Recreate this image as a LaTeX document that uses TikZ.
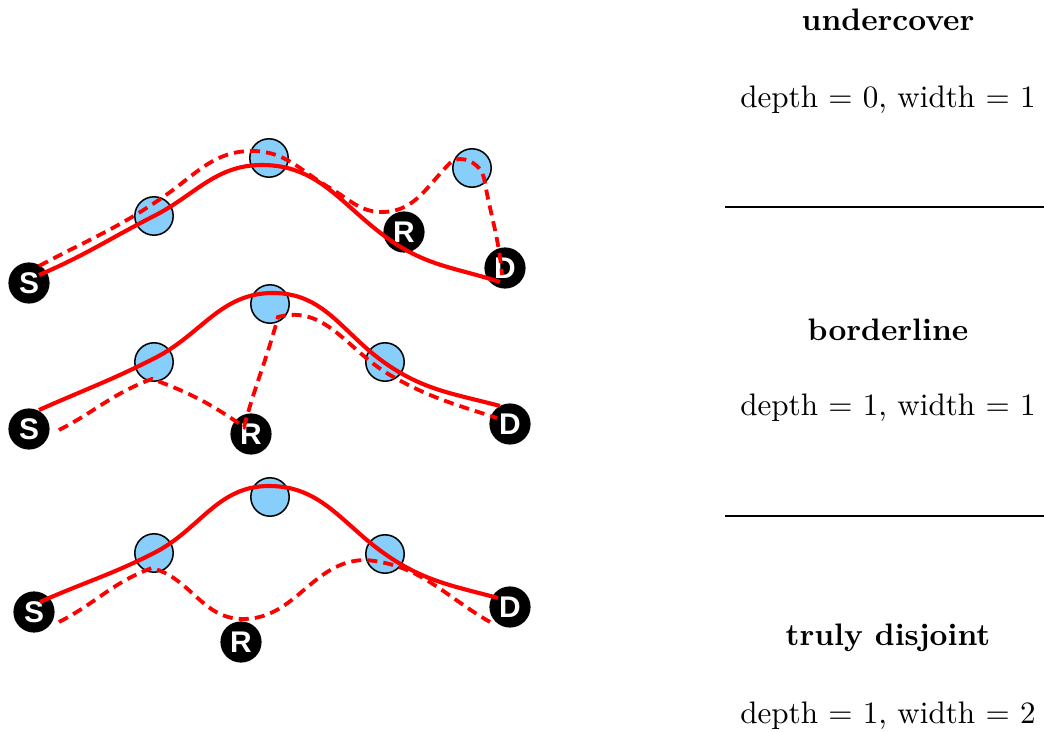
\documentclass[tikz,border=0pt]{standalone}
\usepackage{fontspec}
\setsansfont{Liberation Sans}
\usetikzlibrary{calc}
\definecolor{nodeblue}{RGB}{135,206,250}
\begin{document}
\begin{tikzpicture}[x=0.328pt,y=0.328pt,
  relay/.style={circle,draw=black,line width=0.5pt,fill=nodeblue,minimum size=12.6pt,inner sep=0pt},
  endpt/.style={circle,fill=black,draw=black,minimum size=13.1pt,inner sep=0pt,text=white,
    font=\sffamily\bfseries\fontsize{9.8}{9.8}\selectfont},
  route/.style={red,line width=1.35pt},
  alt/.style={red,line width=1.25pt,dash pattern=on 3.3pt off 2pt},
  title/.style={font=\fontsize{10.2}{12}\selectfont\bfseries},
  info/.style={font=\fontsize{10.2}{12}\selectfont},
  sep/.style={black,line width=0.5pt}]
\useasboundingbox (0,0) rectangle (1044,-732);

% ---------- top: undercover ----------
\node[endpt] (S1) at (29,-283) {S};
\node[relay] (B11) at (154,-216) {};
\node[relay] (B12) at (269,-158) {};
\node[endpt] (R1) at (404,-232) {R};
\node[relay] (B13) at (472,-168) {};
\node[endpt] (D1) at (505,-268) {D};

\draw[route] ($(S1)+(10,8)$) to[out=23,in=207] (B11.center)
  to[out=27,in=180] ($(B12)+(-7,-7)$)
  to[out=0,in=145] ($(R1)+(-14,-8)$)
  to[out=-35,in=162] ($(D1)+(-5,-14)$);
\draw[alt] ($(S1)+(10,17)$) to[out=28,in=215] ($(B11)+(12,21)$)
  to[out=35,in=180] ($(B12)+(-17,7)$)
  to[out=0,in=150] ($(R1)+(-74,44)$)
  to[out=-30,in=180] ($(R1)+(-22,20)$)
  to[out=0,in=-135] ($(B13)+(-22,5)$)
  to[out=45,in=100] ($(B13)+(12,-10)$)
  to[out=-80,in=95] ($(D1)+(-3,-7)$);

% ---------- middle: borderline ----------
\node[endpt] (S2) at (29,-429) {S};
\node[relay] (B21) at (154,-362) {};
\node[relay] (B22) at (270,-304) {};
\node[relay] (B23) at (385,-362) {};
\node[endpt] (R2) at (251,-434) {R};
\node[endpt] (D2) at (510,-424) {D};

\draw[route] ($(S2)+(10,19)$) to[out=24,in=207] ($(B21)+(1,4)$)
  to[out=27,in=180] ($(B22)+(3,11)$)
  to[out=0,in=145] ($(B23)+(0,-1)$)
  to[out=-35,in=165] ($(D2)+(-10,18)$);
\draw[alt] ($(S2)+(30,-1)$) to[out=27,in=200] ($(B21)+(-2,-17)$)
  to[out=-20,in=145] ($(R2)+(-7,7)$)
  to[out=75,in=255] ($(B22)+(8,-13)$)
  to[out=15,in=150] ($(B23)+(5,-13)$)
  to[out=-30,in=162] ($(D2)+(-13,6)$);

% ---------- bottom: truly disjoint ----------
\node[endpt] (S3) at (34,-612) {S};
\node[relay] (B31) at (154,-553) {};
\node[relay] (B32) at (270,-497) {};
\node[relay] (B33) at (385,-554) {};
\node[endpt] (R3) at (241,-642) {R};
\node[endpt] (D3) at (510,-607) {D};

\draw[route] ($(S3)+(6,10)$) to[out=24,in=207] (B31.center)
  to[out=27,in=180] ($(B32)+(-1,11)$)
  to[out=0,in=145] (B33.center)
  to[out=-35,in=165] ($(D3)+(-12,9)$);
\draw[alt] ($(S3)+(25,-10)$) to[out=27,in=200] ($(B31)+(-2,-15)$)
  to[out=-15,in=180] ($(R3)+(2,23)$)
  to[out=0,in=180] ($(B33)+(-19,-6)$)
  to[out=-5,in=150] ($(D3)+(-20,-15)$);

% ---------- right column ----------
\node[title] (t1) at (888,-20) {undercover};
\node[info] (m1) at (888,-100) {depth = 0, width = 1};
\coordinate (l1a) at (725,-207);
\coordinate (l1b) at (1044,-207);
\draw[sep] (l1a) -- (l1b);
\node[title] (t2) at (888,-330) {borderline};
\node[info] (m2) at (888,-408) {depth = 1, width = 1};
\coordinate (l2a) at (725,-516);
\coordinate (l2b) at (1044,-516);
\draw[sep] (l2a) -- (l2b);
\node[title] (t3) at (888,-638) {truly disjoint};
\node[info] (m3) at (888,-716) {depth = 1, width = 2};
\end{tikzpicture}
\end{document}
